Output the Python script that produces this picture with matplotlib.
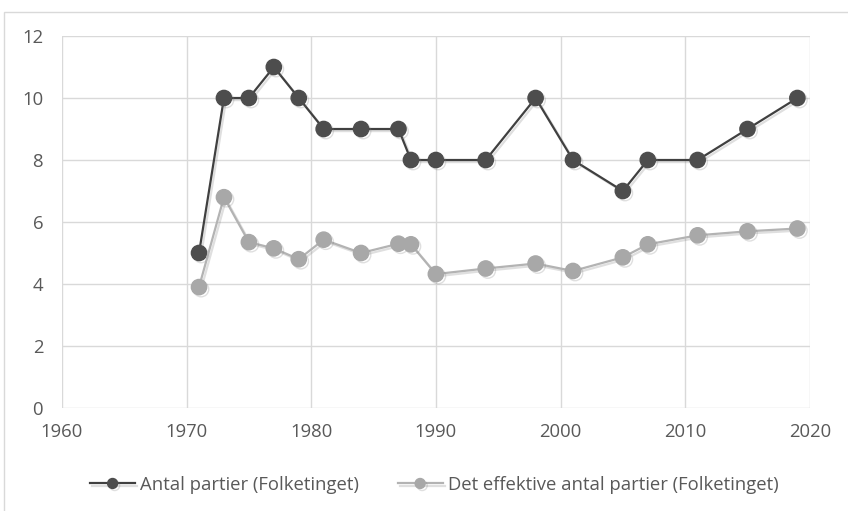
import matplotlib
matplotlib.use("Agg")
import matplotlib.pyplot as plt
import matplotlib.patheffects as pe
from matplotlib.patches import Rectangle

# election years and values
years = [1971, 1973, 1975, 1977, 1979, 1981, 1984, 1987, 1988, 1990,
         1994, 1998, 2001, 2005, 2007, 2011, 2015, 2019]
antal = [5, 10, 10, 11, 10, 9, 9, 9, 8, 8, 8, 10, 8, 7, 8, 8, 9, 10]
effektive = [3.9, 6.8, 5.35, 5.15, 4.8, 5.43, 5.0, 5.3, 5.28, 4.32,
             4.5, 4.66, 4.42, 4.86, 5.28, 5.57, 5.7, 5.79]
x_ticks = [1960, 1970, 1980, 1990, 2000, 2010, 2020]
y_ticks = [0, 2, 4, 6, 8, 10, 12]

plt.rcParams['font.family'] = ['Open Sans', 'DejaVu Sans']

fig = plt.figure(figsize=(8.48, 5.11), dpi=100)
ax = fig.add_axes([0.073, 0.2016, 0.882, 0.7279])

shadow = [pe.SimpleLineShadow(offset=(1.5, -1.5), shadow_color='gray', alpha=0.25), pe.Normal()]

ax.plot(years, antal, color='#404040', lw=1.6, marker='o', markersize=11,
        markerfacecolor='#4d4d4d', markeredgecolor='#4d4d4d',
        label='Antal partier (Folketinget)', path_effects=shadow, zorder=3)
ax.plot(years, effektive, color='#b3b3b3', lw=1.6, marker='o', markersize=11,
        markerfacecolor='#a8a8a8', markeredgecolor='#a8a8a8',
        label='Det effektive antal partier (Folketinget)', path_effects=shadow, zorder=3)

ax.set_xlim(1960, 2020)
ax.set_ylim(0, 12)
ax.set_xticks(x_ticks)
ax.set_yticks(y_ticks)
ax.grid(True, color='#d9d9d9', lw=1)
ax.set_axisbelow(True)
for s in ax.spines.values():
    s.set_visible(False)
ax.tick_params(length=0, labelsize=13.3, labelcolor='#595959')
ax.tick_params(axis='x', pad=11)
ax.tick_params(axis='y', pad=13.5)

leg = fig.legend(loc='center', bbox_to_anchor=(0.512, 0.051), ncol=2, frameon=False,
                 fontsize=13.3, handlelength=2.43, columnspacing=2.1, handletextpad=0.27,
                 markerscale=0.65)
for t in leg.get_texts():
    t.set_color('#595959')

# outer chart frame (cropped at right and bottom)
fig.patches.append(Rectangle((4 / 848, -0.1), 1.2, 1.1 - 12 / 511, transform=fig.transFigure,
                             fill=False, edgecolor='#d9d9d9', lw=1, clip_on=False))

fig.savefig('out.png', dpi=100)
